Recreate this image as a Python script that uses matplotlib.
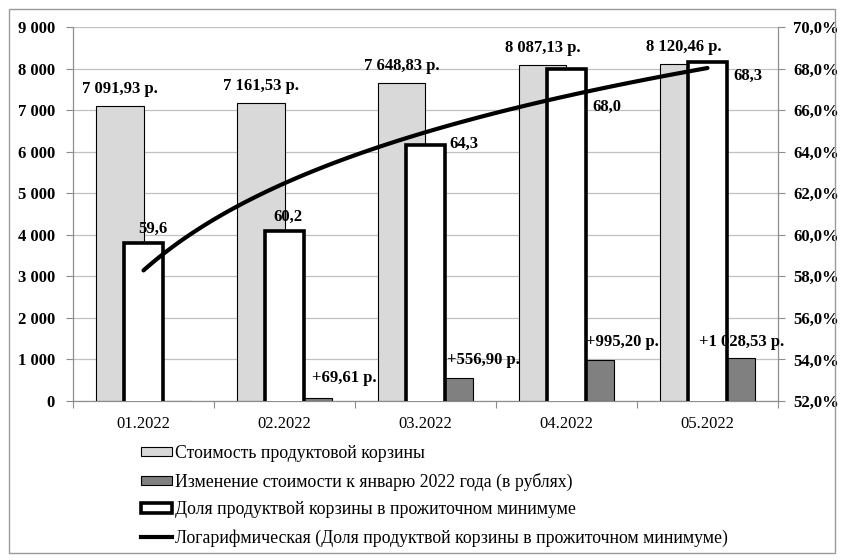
import numpy as np
import matplotlib
matplotlib.use("Agg")
import matplotlib.pyplot as plt
import matplotlib.ticker as ticker
from matplotlib.patches import Patch, Rectangle
from matplotlib.lines import Line2D

plt.rcParams['font.family'] = ['Liberation Serif', 'DejaVu Serif']

# data
months = ["01.2022", "02.2022", "03.2022", "04.2022", "05.2022"]
basket_cost = [7091.93, 7161.53, 7648.83, 8087.13, 8120.46]
cost_change = [0.0, 69.61, 556.90, 995.20, 1028.53]
basket_share = [59.6, 60.2, 64.3, 68.0, 68.3]

cost_labels = ["7 091,93 р.", "7 161,53 р.", "7 648,83 р.", "8 087,13 р.", "8 120,46 р."]
change_labels = ["", "+69,61 р.", "+556,90 р.", "+995,20 р.", "+1 028,53 р."]
share_labels = ["59,6", "60,2", "64,3", "68,0", "68,3"]

legend_labels = ["Стоимость продуктовой корзины",
                 "Изменение стоимости к январю 2022 года (в рублях)",
                 "Доля продуктвой корзины в прожиточном минимуме",
                 "Логарифмическая (Доля продуктвой корзины в прожиточном минимуме)"]

# label offsets in pixels (manual placement like in the original)
change_off = [(0, 0), (36, 20), (34, 18), (32, 18), (10, 16)]
share_off = [(9, 14), (3, 14), (38, 2), (40, -38), (40, -14)]

light = "#d9d9d9"
dark = "#808080"
axcol = "#8c8c8c"

fig = plt.figure(figsize=(8.43, 5.6), dpi=100)
fig.patches.append(Rectangle((9/843, 7/560), 826/843, 544/560, transform=fig.transFigure,
                             fill=False, edgecolor="#9a9a9a", lw=1))
ax = fig.add_axes([73/843, 1-401/560, 705/843, 374/560])
ax2 = ax.twinx()

x = np.arange(len(months))
w = 0.34
ax.bar(x - w/2, basket_cost, w, color=light, edgecolor="black", lw=0.8, zorder=2)
ax.bar(x + w/2, cost_change, w, color=dark, edgecolor="black", lw=0.8, zorder=2)

ax.set_ylim(0, 9000)
ax.set_xlim(-0.5, len(months) - 0.5)
ax.yaxis.set_major_locator(ticker.MultipleLocator(1000))
ax.yaxis.set_major_formatter(ticker.FuncFormatter(lambda v, p: f"{v:,.0f}".replace(",", " ")))
ax.grid(axis="y", color="#c0c0c0", lw=0.9, zorder=0)
ax.set_axisbelow(True)

ax.set_xticks(np.arange(-0.5, len(months)), [""] * (len(months) + 1))
ax.set_xticks(x, months, minor=True)
ax.tick_params(axis="x", which="major", length=5, color=axcol, direction="out")
ax.tick_params(axis="x", which="minor", length=0, pad=11, labelsize=12)
ax.tick_params(axis="y", length=5, color=axcol, pad=8, labelsize=12)
for t in ax.get_yticklabels():
    t.set_fontweight("bold")

for s in ["top"]:
    ax.spines[s].set_visible(False)
    ax2.spines[s].set_visible(False)
for s in ["left", "bottom", "right"]:
    ax.spines[s].set_color(axcol)
    ax2.spines[s].set_color(axcol)

# secondary axis: share bars + log trendline
ax2.bar(x, basket_share, 0.28, color="white", edgecolor="black", lw=2.6, zorder=3)
ax2.set_ylim(52, 70)
ax2.yaxis.set_major_locator(ticker.MultipleLocator(2))
ax2.yaxis.set_major_formatter(ticker.FuncFormatter(lambda v, p: f"{v:.1f}%".replace(".", ",")))
ax2.tick_params(axis="y", length=5, color=axcol, pad=6, labelsize=12)
for t in ax2.get_yticklabels():
    t.set_fontweight("bold")

lx = np.log(x + 1)
b, a = np.polyfit(lx, basket_share, 1)
xs = np.linspace(0, len(months) - 1, 100)
ax2.plot(xs, a + b * np.log(xs + 1), color="black", lw=3, solid_capstyle="round", zorder=4)

# labels
for i in range(len(months)):
    ax.annotate(cost_labels[i], (x[i] - w/2, basket_cost[i]), xytext=(0, 17),
                textcoords="offset pixels", ha="center", va="center",
                fontsize=12, fontweight="bold")
    if change_labels[i]:
        ax2.annotate(change_labels[i], (x[i] + w/2, 52 + cost_change[i] / 9000 * 18),
                     xytext=change_off[i], textcoords="offset pixels", ha="center",
                     va="center", fontsize=12, fontweight="bold", zorder=6)
    ax2.annotate(share_labels[i], (x[i], basket_share[i]), xytext=share_off[i],
                 textcoords="offset pixels", ha="center", va="center",
                 fontsize=12, fontweight="bold", zorder=6)

handles = [Patch(facecolor=light, edgecolor="black", lw=0.8),
           Patch(facecolor=dark, edgecolor="black", lw=0.8),
           Patch(facecolor="white", edgecolor="black", lw=2.6),
           Line2D([0], [0], color="black", lw=3)]
fig.legend(handles, legend_labels, loc="upper left", bbox_to_anchor=(141/843, 1-445/560),
           frameon=False, fontsize=12.8, handlelength=1.75, handleheight=0.45,
           handletextpad=0.15, labelspacing=0.6, borderpad=0, borderaxespad=0)

fig.savefig("out.png", dpi=100)
